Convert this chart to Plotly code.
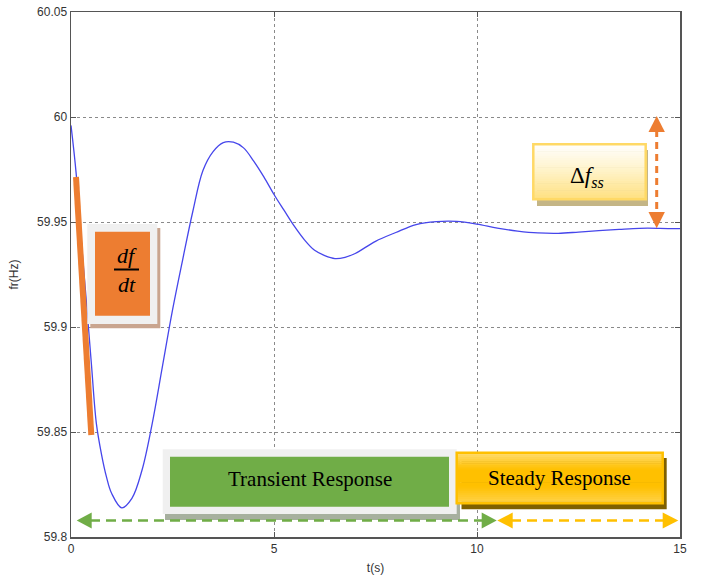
import plotly.graph_objects as go

# ---- data ----
time_s = [0.0, 0.125, 0.25, 0.375, 0.5, 0.625, 0.75, 0.875, 1.0, 1.25,
          1.5, 1.75, 2.0, 2.25, 2.5, 2.75, 3.0, 3.25, 3.5, 3.75,
          4.0, 4.25, 4.5, 4.75, 5.0, 5.25, 5.5, 5.75, 6.0, 6.25,
          6.5, 6.75, 7.0, 7.5, 8.0, 8.5, 9.0, 9.5, 10.0, 10.5,
          11.0, 11.5, 12.0, 12.5, 13.0, 13.5, 14.0, 14.5, 15.0]
freq_hz = [59.996, 59.9735, 59.942, 59.913, 59.883, 59.854, 59.8395, 59.8285, 59.8208, 59.8139,
           59.8184, 59.8319, 59.854, 59.881, 59.908, 59.932, 59.955, 59.9745, 59.9835, 59.9878,
           59.9880, 59.9853, 59.979, 59.9715, 59.9631, 59.9555, 59.948, 59.9415, 59.9365, 59.934,
           59.9326, 59.9332, 59.935, 59.9408, 59.945, 59.9488, 59.9502, 59.9503, 59.9490, 59.9471,
           59.9457, 59.9448, 59.9446, 59.9452, 59.9459, 59.9465, 59.947, 59.9470, 59.9468]
x_ticks = [0, 5, 10, 15]
y_ticks = [59.8, 59.85, 59.9, 59.95, 60.0, 60.05]
y_ticktext = ["59.8", "59.85", "59.9", "59.95", "60", "60.05"]
x_label = "t(s)"
y_label = "fr(Hz)"
label_transient = "Transient Response"
label_steady = "Steady Response"

# ---- layout geometry (body margin removed by post_script) ----
W, H = 705, 580
X0, X1, Y0, Y1 = 71, 680, 12, 537          # plot area in window pixels
L, T = X0, Y0
R = W - X1
B = H - Y1


def px(x):
    return (x - X0) / (X1 - X0)


def py(y):
    return (Y1 - y) / (Y1 - Y0)


shapes = []


def rect(x0, y0, x1, y1, fill, line_color="rgba(0,0,0,0)", lw=0):
    shapes.append(dict(type="rect", xref="paper", yref="paper",
                       x0=px(x0), x1=px(x1), y0=py(y1), y1=py(y0),
                       fillcolor=fill, line=dict(color=line_color, width=lw),
                       layer="above"))


def hexmix(c1, c2, f):
    a = [int(c1[i:i + 2], 16) for i in (1, 3, 5)]
    b = [int(c2[i:i + 2], 16) for i in (1, 3, 5)]
    return "rgb(%d,%d,%d)" % tuple(round(a[k] + (b[k] - a[k]) * f) for k in range(3))


def grad_rect(x0, y0, x1, y1, stops, n=24):
    h = (y1 - y0) / n
    for i in range(n):
        f = (i + 0.5) / n
        seg = min(int(f * (len(stops) - 1)), len(stops) - 2)
        lf = f * (len(stops) - 1) - seg
        col = hexmix(stops[seg], stops[seg + 1], lf)
        rect(x0, y0 + i * h, x1, min(y0 + (i + 1) * h + 0.6, y1), col)


def line(x0, y0, x1, y1, color, width, dash="solid"):
    shapes.append(dict(type="line", xref="paper", yref="paper",
                       x0=px(x0), x1=px(x1), y0=py(y0), y1=py(y1),
                       line=dict(color=color, width=width, dash=dash), layer="above"))


def tri(pts, color):
    p = "M " + " L ".join("%f,%f" % (px(a), py(b)) for a, b in pts) + " Z"
    shapes.append(dict(type="path", xref="paper", yref="paper", path=p,
                       fillcolor=color, line=dict(color=color, width=0), layer="above"))


ORANGE = "#ED7D31"
GREEN = "#70AD47"
GOLD = "#FFC000"

# df/dt tangent bar
line(76, 177, 91.3, 435, ORANGE, 6)

# df/dt box
rect(90.3, 228, 160.3, 328.3, "#C9A58F")
rect(87.3, 224, 157.3, 324, "#F0F0F0")
rect(95, 231.7, 150, 315.7, ORANGE)
line(114, 269.5, 139, 269.5, "black", 2)

# delta f_ss box
rect(537, 150, 648, 206, "#C4B586")
grad_rect(533.3, 144.3, 645.7, 199.3, ["#FFFFFF", "#FFF2C6", "#FFE07F"])
rect(533.3, 144.3, 645.7, 199.3, "rgba(0,0,0,0)", "#FFD966", 2.5)

# orange vertical double arrow
line(656.7, 130, 656.7, 214, ORANGE, 3, "7px,5px")
tri([(656.7, 116), (648.5, 132), (664.9, 132)], ORANGE)
tri([(656.7, 228.3), (648.5, 212), (664.9, 212)], ORANGE)

# transient box
rect(165, 455, 460, 520, "#A7B09F")
rect(162.7, 449.3, 456.7, 514, "#F0F0F0")
rect(170, 456.7, 449, 506.7, GREEN)

# steady box
rect(461.5, 458, 666.7, 509.3, "#7F6000")
grad_rect(456.7, 452.7, 662.7, 503.3, ["#FFDC70", "#FFC000", "#FFC000", "#FFD24A"])
rect(456.7, 452.7, 662.7, 503.3, "rgba(0,0,0,0)", GOLD, 2.5)

# green double arrow
line(90, 520.5, 483, 520.5, GREEN, 2.5, "10px,6px")
tri([(76.7, 520.5), (91.7, 512.5), (91.7, 528.5)], GREEN)
tri([(496.7, 520.5), (481.7, 512.5), (481.7, 528.5)], GREEN)

# yellow double arrow
line(511, 520.5, 664, 520.5, GOLD, 2.5, "10px,6px")
tri([(497.3, 520.5), (512.7, 512.5), (512.7, 528.5)], GOLD)
tri([(678.3, 520.5), (662.7, 512.5), (662.7, 528.5)], GOLD)

SERIF = "Liberation Serif, Times New Roman, serif"


def note(text, x, y, size):
    return dict(text=text, x=px(x), y=py(y), xref="paper", yref="paper",
                xanchor="center", yanchor="middle", showarrow=False,
                font=dict(family=SERIF, size=size, color="black"))


annotations = [
    note("<i>df</i>", 126.5, 256, 22),
    note("<i>dt</i>", 126.5, 284, 22),
    note("Δ<i>f</i><sub><i>ss</i></sub>", 587, 177, 23),
    note(label_transient, 310, 479.5, 21),
    note(label_steady, 559.5, 477.5, 21),
]

fig = go.Figure()
fig.add_trace(go.Scatter(x=time_s, y=freq_hz, mode="lines",
                         line=dict(color="rgb(70,70,235)", width=1.3, shape="spline", smoothing=1.0),
                         hoverinfo="skip", showlegend=False))

AX_FONT = dict(family="Liberation Sans, Arial, sans-serif", size=12, color="#333333")
fig.update_layout(
    width=W, height=H,
    margin=dict(l=L, r=R, t=T, b=B, autoexpand=False),
    paper_bgcolor="white", plot_bgcolor="white",
    showlegend=False,
    shapes=shapes, annotations=annotations,
    xaxis=dict(range=[0, 15], tickvals=x_ticks, ticktext=[str(v) for v in x_ticks],
               showgrid=True, gridcolor="#8a8a8a", griddash="dot", gridwidth=1,
               showline=True, linecolor="#555555", linewidth=1.5, mirror="ticks",
               ticks="inside", ticklen=5, tickcolor="#555555", zeroline=False,
               ticklabeloverflow="allow",
               tickfont=AX_FONT, title=dict(text=x_label, font=AX_FONT, standoff=8)),
    yaxis=dict(range=[59.8, 60.05], tickvals=y_ticks, ticktext=y_ticktext,
               showgrid=True, gridcolor="#8a8a8a", griddash="dot", gridwidth=1,
               showline=True, linecolor="#555555", linewidth=1.5, mirror="ticks",
               ticks="inside", ticklen=5, tickcolor="#555555", zeroline=False,
               ticklabeloverflow="allow",
               tickfont=AX_FONT, title=dict(text=y_label, font=AX_FONT, standoff=16)),
)

fig.write_html("out.html", config={"displayModeBar": False, "staticPlot": True},
               post_script="document.body.style.margin='0px';document.body.style.overflow='hidden';")
